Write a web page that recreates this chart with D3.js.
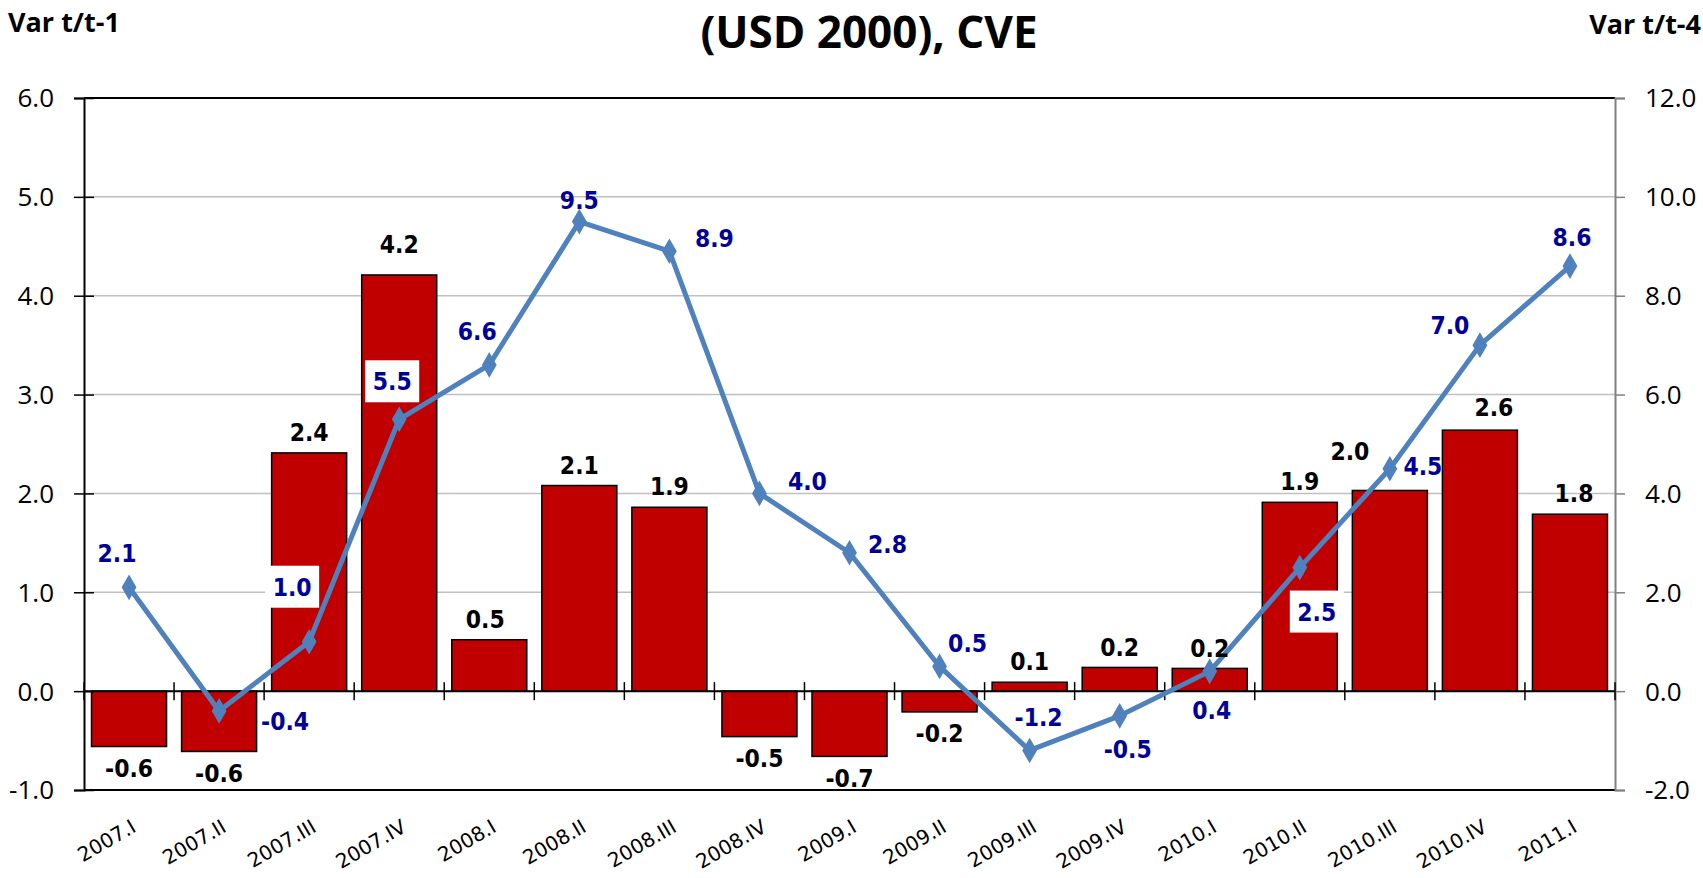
<!DOCTYPE html>
<html>
<head>
<meta charset="utf-8">
<script src="https://cdn.jsdelivr.net/npm/d3@7"></script>
<style>
  body { margin: 0; background: #fff; }
  svg { display: block; }
</style>
</head>
<body>
<svg id="chart" width="1703" height="878"></svg>
<script>
// quarters on the category axis
var categories = ["2007.I", "2007.II", "2007.III", "2007.IV",
                  "2008.I", "2008.II", "2008.III", "2008.IV",
                  "2009.I", "2009.II", "2009.III", "2009.IV",
                  "2010.I", "2010.II", "2010.III", "2010.IV", "2011.I"];

// bars, Var t/t-1 (left axis)
var qoqValues = [-0.56, -0.61, 2.41, 4.21, 0.52, 2.08, 1.86, -0.46, -0.66, -0.21,
                 0.09, 0.24, 0.23, 1.91, 2.03, 2.64, 1.79];

// line, Var t/t-4 (right axis)
var yoyValues = [2.1, -0.4, 1.0, 5.5, 6.6, 9.5, 8.9, 4.0, 2.8, 0.5,
                 -1.2, -0.5, 0.4, 2.5, 4.5, 7.0, 8.6];

var leftTicks = [-1, 0, 1, 2, 3, 4, 5, 6];
var rightTicks = [-2, 0, 2, 4, 6, 8, 10, 12];

// label placement tweaks (layout only)
var barLabelNudge = [[0, 0], [0, 0], [0, 0], [0, -10], [-4, 0], [0, 0], [0, 0], [0, 0], [0, 0],
                     [0, 0], [0, 0], [0, 0], [0, 0], [0, 0], [-40, -19], [14, -2], [4, 0]];
var lineLabelNudge = [[-12, -34], [66, 10], [-17, -55], [-7, -38], [-12, -34], [0, -22],
                      [45, -13], [48, -13], [38, -9], [28, -24], [9, -34], [8, 33],
                      [2, 39], [17, 44], [33, -3], [-30, -20], [2, -29]];
var boxedLabels = [2, 3, 13];

var svg = d3.select("#chart");
var plotLeft = 84, plotRight = 1615, plotTop = 98, plotBottom = 790;
var stretch = 1.15;
var fmt = d3.formatLocale({decimal: ".", thousands: ",", grouping: [3],
                           currency: ["", ""], minus: "-"}).format(".1f");

var x = d3.scaleBand().domain(categories).range([plotLeft, plotRight])
    .paddingInner(0.167).paddingOuter(0.0835);
var yL = d3.scaleLinear().domain([-1, 6]).range([plotBottom, plotTop]);
var yR = d3.scaleLinear().domain([-2, 12]).range([plotBottom, plotTop]);

function cx(d) { return x(d) + x.bandwidth() / 2; }

// put a vertically stretched text at (px, py), centred on py
function addText(g, px, py, txt) {
    return g.append("text")
        .attr("transform", "translate(" + px + "," + py + ") scale(1," + stretch + ")")
        .attr("dy", "0.36em")
        .text(txt);
}

// gridlines
svg.append("g").selectAll("line")
    .data(leftTicks)
    .enter().append("line")
    .attr("x1", plotLeft).attr("x2", plotRight)
    .attr("y1", d => yL(d)).attr("y2", d => yL(d))
    .attr("stroke", "#c0c0c0").attr("stroke-width", 1.5);

// bars
svg.append("g").selectAll("rect")
    .data(qoqValues)
    .enter().append("rect")
    .attr("x", (d, i) => x(categories[i]))
    .attr("width", x.bandwidth())
    .attr("y", d => yL(Math.max(0, d)))
    .attr("height", d => Math.abs(yL(d) - yL(0)))
    .attr("fill", "#c00000")
    .attr("stroke", "#000")
    .attr("stroke-width", 1.5);

// plot frame: top and bottom black
svg.append("line").attr("x1", plotLeft).attr("x2", plotRight).attr("y1", plotTop).attr("y2", plotTop)
    .attr("stroke", "#000").attr("stroke-width", 2);
svg.append("line").attr("x1", plotLeft).attr("x2", plotRight).attr("y1", plotBottom).attr("y2", plotBottom)
    .attr("stroke", "#000").attr("stroke-width", 2);

// left axis
var gL = svg.append("g")
    .attr("transform", "translate(" + plotLeft + ",0)")
    .call(d3.axisLeft(yL).tickValues(leftTicks).tickSize(10).tickFormat(""));
gL.select(".domain").attr("stroke", "#000").attr("stroke-width", 2);
gL.selectAll(".tick line").attr("x2", -10).attr("x1", 10).attr("stroke", "#000").attr("stroke-width", 1.5);

svg.append("g")
    .attr("font-family", "'Open Sans', sans-serif")
    .attr("font-size", 26)
    .attr("text-anchor", "end")
    .selectAll("text")
    .data(leftTicks)
    .enter().append("text")
    .attr("x", 54).attr("y", d => yL(d))
    .attr("dy", "0.36em")
    .text(d => fmt(d));

// right axis
var gR = svg.append("g")
    .attr("transform", "translate(" + plotRight + ",0)")
    .call(d3.axisRight(yR).tickValues(rightTicks).tickSize(10).tickFormat(""));
gR.select(".domain").attr("stroke", "#808080").attr("stroke-width", 2);
gR.selectAll(".tick line").attr("stroke", "#808080").attr("stroke-width", 1.5);

svg.append("g")
    .attr("font-family", "'Open Sans', sans-serif")
    .attr("font-size", 26)
    .attr("text-anchor", "start")
    .selectAll("text")
    .data(rightTicks)
    .enter().append("text")
    .attr("x", 1645).attr("y", d => yR(d))
    .attr("dy", "0.36em")
    .text(d => fmt(d));

// category ticks across the zero line
var edges = categories.map(d => x(d) - x.step() * x.paddingInner() / 2);
edges.push(plotRight);
svg.append("g").selectAll("line")
    .data(edges)
    .enter().append("line")
    .attr("x1", d => d).attr("x2", d => d)
    .attr("y1", yL(0) - 9).attr("y2", yL(0) + 9)
    .attr("stroke", "#000").attr("stroke-width", 1.5);
svg.append("line").attr("x1", plotLeft).attr("x2", plotRight)
    .attr("y1", yL(0)).attr("y2", yL(0))
    .attr("stroke", "#000").attr("stroke-width", 2);

// category labels, rotated
svg.append("g")
    .attr("font-family", "'DejaVu Sans', sans-serif")
    .attr("font-size", 20)
    .attr("fill", "#000")
    .selectAll("text")
    .data(categories)
    .enter().append("text")
    .attr("transform", d => "translate(" + (cx(d) + 1) + ",818) rotate(-30)")
    .attr("text-anchor", "end")
    .attr("dy", "0.74em")
    .text(d => d);

// line + diamonds
var line = d3.line()
    .x((d, i) => cx(categories[i]))
    .y(d => yR(d));

svg.append("path")
    .datum(yoyValues)
    .attr("d", line)
    .attr("fill", "none")
    .attr("stroke", "#4f81bd")
    .attr("stroke-width", 5)
    .attr("stroke-linejoin", "round");

svg.append("g").selectAll("path")
    .data(yoyValues)
    .enter().append("path")
    .attr("d", d3.symbol().type(d3.symbolDiamond).size(190))
    .attr("transform", (d, i) => "translate(" + cx(categories[i]) + "," + yR(d) + ")")
    .attr("fill", "#4f81bd");

// bar labels
var barLab = svg.append("g")
    .attr("font-family", "'DejaVu Sans', sans-serif")
    .attr("font-weight", "bold")
    .attr("font-size", 22)
    .attr("text-anchor", "middle")
    .attr("fill", "#000");
qoqValues.forEach(function(v, i) {
    var py = v >= 0 ? yL(v) - 21 : yL(v) + 21;
    addText(barLab, cx(categories[i]) + barLabelNudge[i][0], py + barLabelNudge[i][1], fmt(v));
});

// line labels
var lineLab = svg.append("g")
    .attr("font-family", "'DejaVu Sans', sans-serif")
    .attr("font-weight", "bold")
    .attr("font-size", 22)
    .attr("text-anchor", "middle")
    .attr("fill", "#000099");
yoyValues.forEach(function(v, i) {
    var px = cx(categories[i]) + lineLabelNudge[i][0];
    var py = yR(v) + lineLabelNudge[i][1];
    if (boxedLabels.indexOf(i) >= 0) {
        lineLab.append("rect")
            .attr("x", px - 27).attr("y", py - 21)
            .attr("width", 54).attr("height", 42)
            .attr("fill", "#fff");
    }
    addText(lineLab, px, py, fmt(v));
});

// titles
svg.append("text")
    .attr("x", 869).attr("y", 48)
    .attr("text-anchor", "middle")
    .attr("font-family", "'Open Sans', sans-serif")
    .attr("font-weight", "bold")
    .attr("font-size", 44)
    .text("(USD 2000), CVE");

var side = svg.append("g")
    .attr("font-family", "'Open Sans', sans-serif")
    .attr("font-weight", "bold")
    .attr("font-size", 27);
side.append("text").attr("x", 8).attr("y", 32).attr("text-anchor", "start").text("Var t/t-1");
side.append("text").attr("x", 1701).attr("y", 34).attr("text-anchor", "end").text("Var t/t-4");
</script>
</body>
</html>
